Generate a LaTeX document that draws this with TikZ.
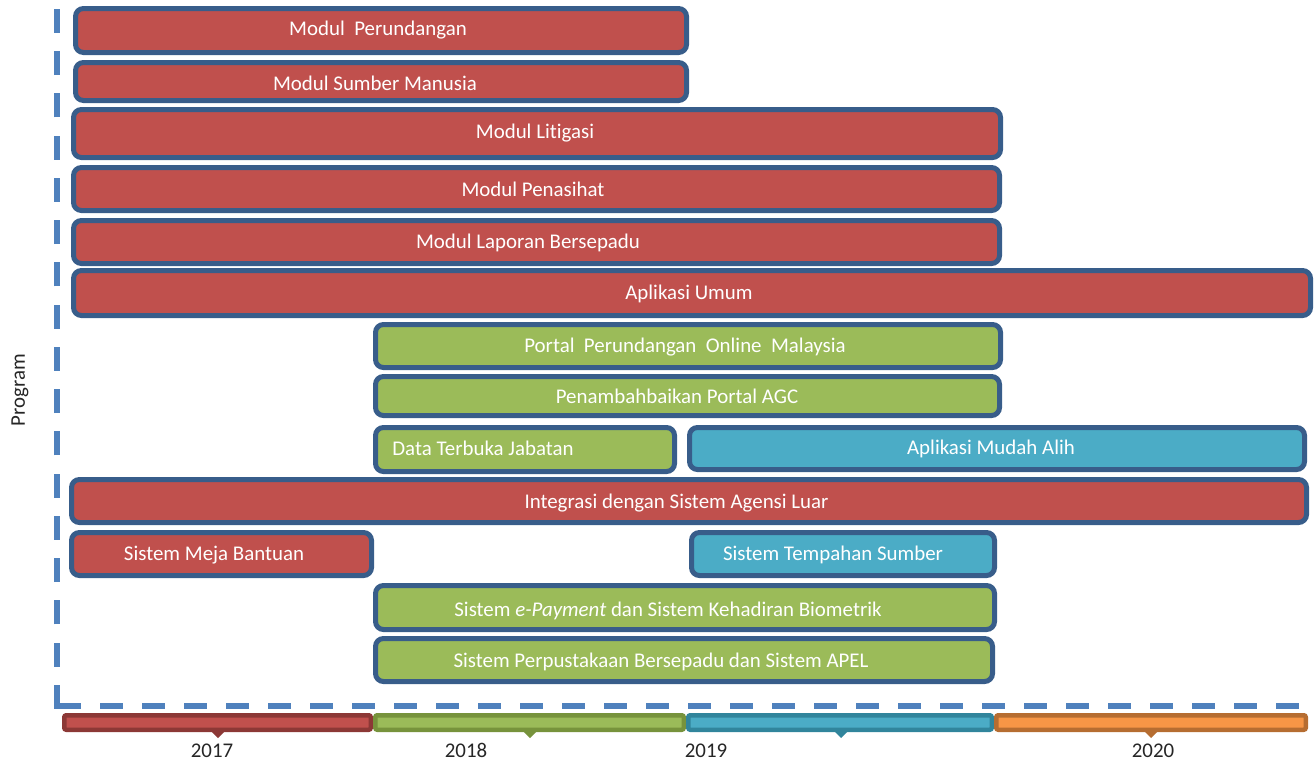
\documentclass[tikz,border=0pt]{standalone}
\usepackage{fontspec}
\setmainfont{Carlito}[Ligatures=NoCommon]
\definecolor{bordblue}{HTML}{385D8A}
\definecolor{redf}{HTML}{C0504D}
\definecolor{greenf}{HTML}{9BBB59}
\definecolor{cyanf}{HTML}{4BACC6}
\definecolor{orangef}{HTML}{F79646}
\definecolor{redd}{HTML}{8C3836}
\definecolor{greend}{HTML}{77933C}
\definecolor{cyand}{HTML}{31859C}
\definecolor{oranged}{HTML}{B66D31}
\definecolor{axisblue}{HTML}{4F81BD}
\definecolor{yeartext}{HTML}{262626}
\tikzset{
  bar/.style={draw=bordblue, line width=5pt, rounded corners=8pt, anchor=north west, inner sep=0pt},
  redbar/.style={bar, fill=redf},
  greenbar/.style={bar, fill=greenf},
  cyanbar/.style={bar, fill=cyanf},
  lbl/.style={text=white, font=\fontsize{20.9}{24}\selectfont, inner sep=0pt, text height=13.5pt, text depth=0pt},
  seg/.style={line width=4.5pt, rounded corners=2pt, anchor=north west, inner sep=0pt, minimum height=14.5pt},
  yearlbl/.style={text=yeartext, font=\fontsize{20.9}{24}\selectfont, inner sep=0pt, text height=13.5pt, text depth=0pt},
  axisline/.style={draw=axisblue, line width=5.5pt},
}
\newcommand{\barbox}[6]{% style, name, x1, y1, x2, y2
  \pgfmathsetmacro{\bw}{#5-#3-5}\pgfmathsetmacro{\bh}{#6-#4-5}%
  \node[#1, minimum width=\bw pt, minimum height=\bh pt] (#2) at (#3,#4) {};}
\begin{document}
\begin{tikzpicture}[x=1pt,y=-1pt]
\useasboundingbox (0,0) rectangle (1314,763);
% axis
\coordinate (atop) at (57,9);
\coordinate (abot) at (57,708.75);
\coordinate (hstart) at (58,706);
\coordinate (aend) at (1306,706);
\draw[axisline, dash pattern=on 24pt off 18.25pt] (abot) -- (atop);
\draw[axisline, dash pattern=on 23pt off 19pt] (hstart) -- (aend);
\node[yearlbl, rotate=90] (prog) at (18,390) {Program};
% bars
\barbox{redbar}{b1}{73}{6}{689}{55}
\barbox{redbar}{b2}{73}{60}{689}{103}
\barbox{redbar}{b3}{71}{107}{1003}{160}
\barbox{redbar}{b4}{71}{165}{1002}{213}
\barbox{redbar}{b5}{71}{218}{1002}{266}
\barbox{redbar}{b6}{71}{268}{1313}{318}
\barbox{greenbar}{b7}{373}{322}{1003}{370}
\barbox{greenbar}{b8}{373}{374}{1002}{418}
\barbox{greenbar}{b9}{373}{425}{677}{474}
\barbox{cyanbar}{b10}{687}{425}{1307}{472}
\barbox{redbar}{b11}{69}{477}{1309}{525}
\barbox{redbar}{b12}{69}{530}{374}{578}
\barbox{cyanbar}{b13}{689}{530}{997}{578}
\barbox{greenbar}{b14}{373}{583}{997}{632}
\barbox{greenbar}{b15}{373}{636}{995}{684}
% labels
\node[lbl] (t1) at (378,29) {Modul\ \ Perundangan};
\node[lbl] (t2) at (375,84) {Modul Sumber Manusia};
\node[lbl] (t3) at (535,132) {Modul Litigasi};
\node[lbl] (t4) at (533,190) {Modul Penasihat};
\node[lbl] (t5) at (528,242) {Modul Laporan Bersepadu};
\node[lbl] (t6) at (689,293) {Aplikasi Umum};
\node[lbl] (t7) at (685,346) {Portal\ \ Perundangan\ \ Online\ \ Malaysia};
\node[lbl] (t8) at (677,397) {Penambahbaikan Portal AGC};
\node[lbl] (t9) at (483,449) {Data Terbuka Jabatan};
\node[lbl] (t10) at (991,448) {Aplikasi Mudah Alih};
\node[lbl] (t11) at (676.5,501.6) {Integrasi dengan Sistem Agensi Luar};
\node[lbl] (t12) at (214,554) {Sistem Meja Bantuan};
\node[lbl] (t13) at (833,554) {Sistem Tempahan Sumber};
\node[lbl] (t14) at (668,609.5) {Sistem \textit{e-Payment} dan Sistem Kehadiran Biometrik};
\node[lbl] (t15) at (661,661) {Sistem Perpustakaan Bersepadu dan Sistem APEL};
% timeline
\node[seg, draw=redd, fill=redf, minimum width=306.5pt] (s1) at (62,713) {};
\node[seg, draw=greend, fill=greenf, minimum width=308.5pt] (s2) at (373,713) {};
\node[seg, draw=cyand, fill=cyanf, minimum width=303.5pt] (s3) at (686,713) {};
\node[seg, draw=oranged, fill=orangef, minimum width=309.5pt] (s4) at (994,713) {};
\fill[redd] (211,731) -- (225,731) -- (218,738) -- cycle;
\fill[greend] (523,731) -- (537,731) -- (530,738) -- cycle;
\fill[cyand] (834,731) -- (848,731) -- (841,738) -- cycle;
\fill[oranged] (1144,731) -- (1158,731) -- (1151,738) -- cycle;
\node[yearlbl] (y1) at (212,751) {2017};
\node[yearlbl] (y2) at (466,751) {2018};
\node[yearlbl] (y3) at (706,751) {2019};
\node[yearlbl] (y4) at (1153,751) {2020};
\end{tikzpicture}
\end{document}
